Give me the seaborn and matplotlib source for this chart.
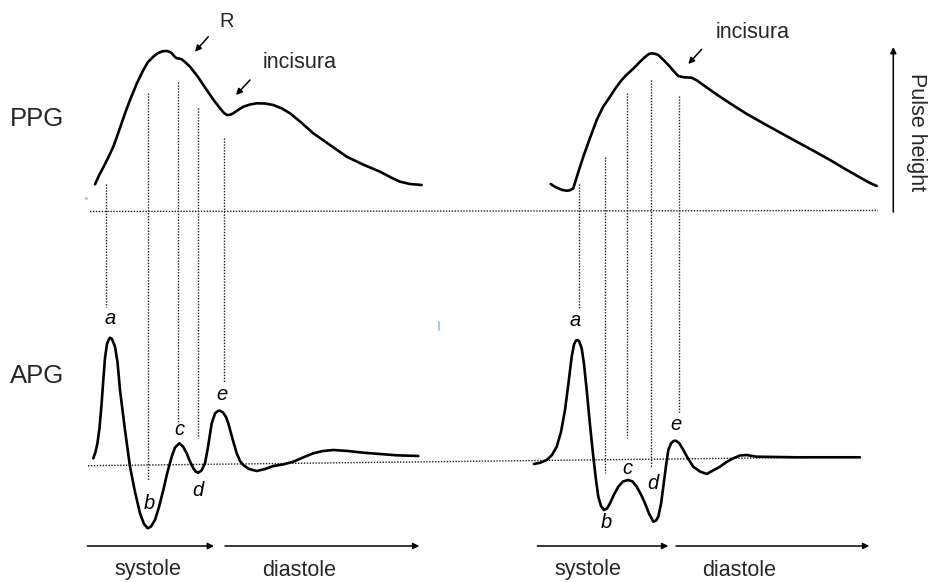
import numpy as np
import pandas as pd
import matplotlib
matplotlib.use("Agg")
import matplotlib.pyplot as plt
import seaborn as sns

# ---- waveform traces (x, y in drawing units, y grows downward) ----
ppg_left_x = [95, 99, 104, 108.5, 113.3, 117, 121, 125.5, 130, 137, 143.3, 148, 153.3, 158, 163, 167, 170,
              172, 174.5, 176.7, 179, 181.7, 185, 190, 198, 206.7, 214, 220, 224, 227, 230, 233.3, 238,
              243.3, 250, 256.7, 265, 273.3, 282, 290, 300, 313.3, 330, 346.7, 363, 380, 392, 400, 410, 421.7]
ppg_left_y = [184.3, 175.5, 166, 157, 146.7, 136.5, 125, 112, 100, 83, 70, 62, 56.7, 53, 51.2, 51, 52,
              53.5, 56.5, 58.3, 58.5, 59.3, 62, 66.7, 77, 90, 100.5, 108.3, 113, 115, 114.8, 113.3, 110,
              106.7, 104.5, 103.3, 103.5, 105, 108.5, 113.3, 121.5, 133.3, 145, 156.7, 164.5, 171.7, 178, 181.7, 184, 185]

apg_left_x = [93.3, 95.5, 97.5, 99.5, 101.5, 103.3, 105, 107, 109, 110, 112, 115, 117.5, 120, 125, 130, 135,
              140, 144, 147.7, 151, 155, 159, 163.3, 167.5, 171.7, 175, 179.3, 183, 186.7, 190, 193.3, 196,
              198.3, 201.5, 205, 208, 211.7, 215, 218, 220, 223, 226, 228.3, 232, 236.7, 240, 243.3,
              249, 256.7, 265, 273.3, 283, 293.3, 303, 313.3, 323, 333.3, 348, 363.3, 380, 396.7, 418.3]
apg_left_y = [458.3, 452, 443, 428, 405, 380, 358, 344, 339, 337.7, 339, 346.7, 362, 390, 430, 466.7, 492,
              513.3, 524, 528.3, 526.5, 520, 507, 490, 472, 456.7, 447.5, 443.3, 446.5, 453.3, 461.5, 468.3, 471.8,
              472.7, 470.5, 463.3, 447, 423.3, 413.5, 410.8, 410.7, 412.5, 417, 423.3, 437, 453.3, 461, 465,
              469, 471, 469, 466, 464.5, 461.7, 457.5, 453.3, 451, 450, 451, 452.7, 454, 455.3, 456]

ppg_right_x = [550.7, 554.5, 558.3, 562.5, 566.7, 570, 573.3, 578, 583.3, 590, 596.7, 603, 610, 616,
               621.7, 626, 630, 635, 640, 645, 649, 651.7, 655, 658.3, 664, 670, 674, 678.3, 684, 691.7,
               697, 703.3, 716, 730, 746, 763.3, 780, 796.7, 813, 830, 846, 863.3, 870, 876.7]
ppg_right_y = [184, 186.5, 188.3, 190, 190.7, 190.3, 188.3, 173, 156.7, 138, 120, 107, 96.7, 87.5,
               80, 75.3, 71.7, 67, 61.7, 57, 54, 53.3, 53.8, 55, 60.5, 66.7, 71.5, 76, 77.3, 77.7,
               80.5, 85, 94, 103.3, 113.5, 123.3, 132.5, 141.7, 150.5, 160, 169.5, 179.3, 183, 186]

apg_right_x = [534, 540, 546.7, 552, 556.7, 561, 565, 568.5, 571.7, 574, 576, 577.3, 579, 581.7, 584,
               586.7, 590, 593.3, 596, 598.3, 601, 604, 607, 610, 614, 618.3, 623, 628.3, 632.5, 636.7,
               641, 645, 649, 653.3, 656, 658.3, 661, 663.3, 666, 668.3, 671, 673.5, 676, 679.5, 683.3,
               688, 693.3, 700, 706.7, 713, 720, 726.5, 733.3, 740, 746.7, 751, 756.7, 796.7, 860]
apg_right_y = [464, 462.8, 460, 455, 446.7, 432, 410, 383, 356.7, 344.5, 340.5, 340, 341, 348.3, 364,
               390, 425, 456.7, 480, 496.7, 506, 510, 508.5, 503.3, 494.5, 486.7, 481.5, 480, 481.5, 486.7,
               494.5, 503.3, 513.5, 521.7, 520.5, 516.7, 504, 486.7, 466, 450, 443.5, 441, 440.7, 443.5, 450,
               458.5, 466.7, 471.5, 474, 470.5, 466.7, 462, 458.3, 455.5, 455, 455.8, 456.7, 457.3, 457.3]

# ---- dotted guides ----
guide_x = [105.7, 147.7, 178.3, 198.3, 224.3, 579, 605, 626.7, 651.3, 678.7]
guide_top = [184, 92.7, 81.7, 108.3, 138.3, 184.3, 156.7, 92.7, 80, 96]
guide_bottom = [306.7, 480, 423.3, 438.3, 383.3, 308.3, 473.3, 438.3, 466.7, 413.3]
baseline_x = [[90, 878], [88, 860]]
baseline_y = [[211.5, 210.5], [465.7, 456.8]]

# ---- wave point letters ----
wave_letters = ["a", "b", "c", "d", "e", "a", "b", "c", "d", "e"]
letter_x = [110, 149, 179, 198.3, 221.7, 575, 606, 627.3, 652.7, 675.7]
letter_y = [318.3, 503.3, 429.3, 490, 395, 320.7, 523, 469, 483.3, 425]

# ---- phase arrows along the bottom ----
phase_labels = ["systole", "diastole", "systole", "diastole"]
phase_start = [87.3, 225, 537.3, 676]
phase_end = [214, 419.3, 668.3, 869.3]
phase_label_x = [148.3, 299.2, 588.3, 739.2]

sns.set_theme(style="white")
plt.rcParams["font.family"] = ["Liberation Sans", "DejaVu Sans"]

fig = plt.figure(figsize=(9.30, 5.82), dpi=100)
ax = fig.add_axes([0, 0, 1, 1])

dot_style = dict(color="#1e1e1e", lw=1.0, linestyle=(0, (1, 1.1)))

# vertical guides linking PPG features to APG waves
for gx, gt, gb in zip(guide_x, guide_top, guide_bottom):
    ax.plot([gx, gx], [gt, gb], **dot_style)

# zero lines
for bx, by in zip(baseline_x, baseline_y):
    ax.plot(bx, by, **dot_style)

traces = [(ppg_left_x, ppg_left_y), (apg_left_x, apg_left_y),
          (ppg_right_x, ppg_right_y), (apg_right_x, apg_right_y)]
for tx, ty in traces:
    df = pd.DataFrame({"x": tx, "y": ty})
    sns.lineplot(data=df, x="x", y="y", sort=False, estimator=None, color="black",
                 lw=1.9, ax=ax, solid_capstyle="round", solid_joinstyle="round")
ax.set_xlim(0, 930)
ax.set_ylim(582, 0)
ax.axis("off")

for lab, lx, ly in zip(wave_letters, letter_x, letter_y):
    ax.text(lx, ly, lab, fontsize=14.5, style="italic", ha="center", va="center", color="black")

ax.text(9.5, 119, "PPG", fontsize=18.5, ha="left", va="center")
ax.text(10, 376, "APG", fontsize=18.5, ha="left", va="center")

arrow_kw = dict(arrowstyle="-|>", color="black", lw=1.1, mutation_scale=9,
                shrinkA=0, shrinkB=0)

# bottom phase arrows
for lab, x0, x1, tx in zip(phase_labels, phase_start, phase_end, phase_label_x):
    ax.annotate("", xy=(x1, 546), xytext=(x0, 546), arrowprops=arrow_kw)
    ax.text(tx, 570, lab, fontsize=15.5, ha="center", va="center")

# pulse height axis
ax.annotate("", xy=(893.3, 47), xytext=(893.3, 212), arrowprops=arrow_kw)
ax.text(916, 131.7, "Pulse height", fontsize=15.5, rotation=-90, ha="center", va="center")

# annotations on the PPG waves
ax.text(226.7, 21.7, "R", fontsize=14.5, ha="center", va="center")
ax.annotate("", xy=(195, 51.7), xytext=(208.3, 36.7), arrowprops=arrow_kw)
ax.text(299.7, 62.5, "incisura", fontsize=15.5, ha="center", va="center")
ax.annotate("", xy=(236, 95), xytext=(250, 80), arrowprops=arrow_kw)
ax.text(752.5, 33, "incisura", fontsize=15.5, ha="center", va="center")
ax.annotate("", xy=(688.3, 64), xytext=(701.7, 49.3), arrowprops=arrow_kw)

# small stray marks
ax.plot([439.3, 439.3], [322, 330], color="#a9c9ee", lw=1.4)
ax.plot([86], [198.3], marker="s", ms=1, color="#a9c9ee")

fig.savefig("out.png", dpi=100)
